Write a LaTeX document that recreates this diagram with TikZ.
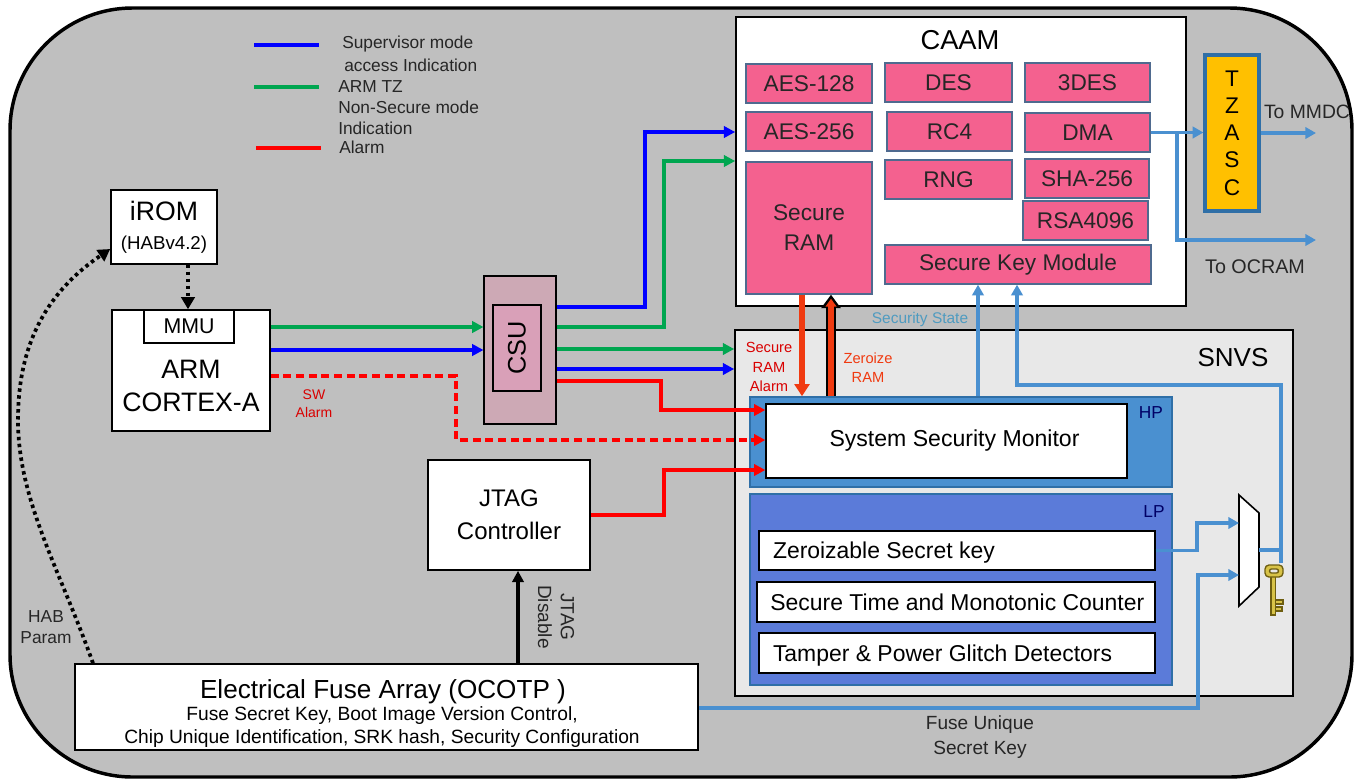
\documentclass[tikz,border=0pt]{standalone}
\usepackage{fontspec}
\setmainfont{Liberation Sans}
\usetikzlibrary{arrows.meta,positioning,calc}
\definecolor{shell}{HTML}{BFBFBF}
\definecolor{pinkbox}{HTML}{F4618F}
\definecolor{pinkedge}{HTML}{4F6A8F}
\definecolor{sigblue}{HTML}{4A90D0}
\definecolor{lpblue}{HTML}{5B7BD9}
\definecolor{snvsgrey}{HTML}{E8E8E8}
\definecolor{csupink}{HTML}{CDA9B5}
\definecolor{csuinner}{HTML}{D9A0B8}
\definecolor{tzorange}{HTML}{FFC000}
\definecolor{tzedge}{HTML}{2F6FA7}
\definecolor{stateblue}{HTML}{4F9BBF}
\definecolor{keygold}{HTML}{D8C348}
\definecolor{keyedge}{HTML}{6E5E10}
\definecolor{zerored}{HTML}{F03A10}
\definecolor{siggreen}{HTML}{00A650}
\newcommand{\fsz}[1]{\fontsize{#1}{1.2\dimexpr#1pt\relax}\selectfont}
\begin{document}
\begin{tikzpicture}[x=0.75pt, y=-0.75pt, >=Latex, font=\fsz{17},
  sz/.style 2 args={minimum width=#1*0.75pt, minimum height=#2*0.75pt, inner sep=0pt, align=center},
  wbox/.style={draw=black, line width=1.2pt, fill=white},
  pbox/.style={draw=pinkedge, line width=1pt, fill=pinkbox, text=black!85},
  inbox/.style={draw=black, line width=1pt, fill=white},
  lbl/.style={align=left, inner sep=0pt, anchor=west, font=\fsz{13}, text=black!85},
  redlbl/.style={align=center, inner sep=0pt, font=\fsz{11}, text=red!85!black},
  wire/.style={line width=2.8pt, -{Triangle[length=8.5pt,width=8.5pt]}},
  sblue/.style={wire, draw=blue},
  sgreen/.style={wire, draw=siggreen},
  sred/.style={wire, draw=red},
  sig/.style={line width=2.4pt, draw=sigblue, -{Triangle[length=8pt,width=8.5pt]}},
  dots/.style={line width=2.8pt, dash pattern=on 2.6pt off 2.6pt, -{Triangle[length=9pt,width=10pt]}}]
\useasboundingbox (0,0) rectangle (1361,779);
% ---------------- chip outline and big blocks
\path[fill=white] (0,0) rectangle (1361,779);
\draw[line width=2.6pt, fill=shell, rounded corners=92pt] (10,8) rectangle (1352,777);
\node[draw=black, line width=1.2pt, fill=white, sz={450}{289}] (caam) at (961,161.5) {};
\node[anchor=north, font=\fsz{20.5}] at (960,26) (caamt) {CAAM};
\node[draw=black, line width=1.2pt, fill=snvsgrey, sz={558}{366}] (snvs) at (1014,513) {};
\node[font=\fsz{19.5}] at (1233,358) (snvst) {SNVS};
% ---------------- CAAM contents
\node[pbox, sz={126}{39}] (aesa) at (809,83.5) {AES-128};
\node[pbox, sz={127}{39}] (des) at (948.5,82.5) {DES};
\node[pbox, sz={125}{39}] (tdes) at (1087.5,82.5) {3DES};
\node[pbox, sz={126}{39}] (aesb) at (809,131.5) {AES-256};
\node[pbox, sz={125}{39}] (rc) at (949.5,131.5) {RC4};
\node[pbox, sz={125}{39}] (dma) at (1087.5,132.5) {DMA};
\node[pbox, sz={126}{132}] (sram) at (809,228) {Secure\\[2pt]RAM};
\node[pbox, sz={127}{39}] (rng) at (948.5,179.5) {RNG};
\node[pbox, sz={124}{39}] (sha) at (1087,178.5) {SHA-256};
\node[pbox, sz={125}{39}] (rsa) at (1085.5,220.5) {RSA4096};
\node[pbox, sz={266}{39}] (skm) at (1018,264.5) {Secure Key Module};
\node[draw=tzedge, line width=2.4pt, fill=tzorange, sz={54}{156}] (tzasc) at (1232,133) {T\\Z\\A\\S\\C};
% ---------------- SNVS contents
\node[draw=tzedge, line width=1.2pt, fill=sigblue, sz={422}{90}] (hp) at (961,442) {};
\node[inbox, sz={361}{74}, font=\fsz{17.3}] (ssm) at (946.5,441) {\hspace*{12pt}System Security Monitor};
\node[font=\fsz{13}, text=blue!40!black] at (1151,413) (hpt) {HP};
\node[draw=tzedge, line width=1.2pt, fill=lpblue, sz={422}{191}] (lp) at (961,589.5) {};
\node[font=\fsz{13}, text=blue!40!black] at (1154,512) (lpt) {LP};
\node[inbox, sz={396}{39}, font=\fsz{17.2}, text depth=0pt] (zero) at (957,550.5) {\makebox[276pt][l]{Zeroizable Secret key}};
\node[inbox, sz={398}{40}, font=\fsz{17.2}] (stime) at (956,602) {\hspace*{2pt}Secure Time and Monotonic Counter};
\node[inbox, sz={396}{40}, font=\fsz{17.2}, text depth=0pt] (tamper) at (957,653) {\makebox[276pt][l]{Tamper \& Power Glitch Detectors}};
\coordinate (muxtl) at (1239,495);
\coordinate (muxtr) at (1259,513);
\coordinate (muxbr) at (1259,587);
\coordinate (muxbl) at (1239,606);
\draw[line width=1.2pt, fill=white] (muxtl) -- (muxtr) -- (muxbr) -- (muxbl) -- cycle;
% ---------------- left side blocks
\node[wbox, sz={106}{74}] (irom) at (164,227) {\fsz{20}iROM\\[1pt]\fsz{14}(HABv4.2)};
\node[wbox, sz={158}{121}, font=\fsz{20}] (arm) at (191,370.5) {\\[13pt]ARM\\[1pt]CORTEX-A};
\node[wbox, sz={90}{33}, font=\fsz{16}] (mmu) at (189,326.5) {MMU};
\node[draw=black, line width=0.8pt, fill=csupink, sz={72}{148}] (csu) at (520,350) {};
\node[draw=black, line width=1pt, fill=csuinner, sz={48}{86}] (csuin) at (517,348) {\rotatebox{90}{\fsz{19}CSU}};
\node[wbox, sz={162}{110}, font=\fsz{18}] (jtag) at (509,515) {JTAG\\[3pt]Controller};
\node[wbox, sz={623}{86}] (fuse) at (386.5,707) {};
\node[font=\fsz{19.6}, anchor=north] at (383,675) (fuset) {Electrical Fuse Array (OCOTP )};
\node[font=\fsz{14.4}, anchor=north, align=center] at (382,702) (fuses) {Fuse Secret Key, Boot Image Version Control,\\[0pt]Chip Unique Identification, SRK hash, Security Configuration};
% ---------------- legend
\coordinate (lgbl) at (254,45); \coordinate (lgbr) at (319,45);
\coordinate (lggl) at (254,87); \coordinate (lggr) at (319,87);
\coordinate (lgrl) at (256,148); \coordinate (lgrr) at (321,148);
\draw[line width=2.6pt, blue] (lgbl) -- (lgbr);
\draw[line width=2.6pt, siggreen] (lggl) -- (lggr);
\draw[line width=2.6pt, red] (lgrl) -- (lgrr);
\node[lbl] at (342,44) (lga) {Supervisor mode};
\node[lbl] at (344,65) (lgb) {access Indication};
\node[lbl] at (338,87) (lgc) {ARM TZ};
\node[lbl] at (338,107) (lgd) {Non-Secure mode};
\node[lbl] at (338,128) (lge) {Indication};
\node[lbl] at (339,147) (lgf) {Alarm};
% ---------------- signals from ARM and CSU
\draw[sgreen] (arm.east |- 0,327) -- (csu.west |- 0,327);
\draw[sblue] (arm.east |- 0,350) -- (csu.west |- 0,350);
\draw[sred, dash pattern=on 6pt off 3.5pt] (arm.east |- 0,376) -| (456,440) -- (ssm.west |- 0,440);
\draw[sblue] (csu.east |- 0,307) -| (645,132) -- (caam.west |- 0,132);
\draw[sgreen] (csu.east |- 0,327) -| (664,161) -- (caam.west |- 0,161);
\draw[sgreen] (csu.east |- 0,349) -- (snvs.west |- 0,349);
\draw[sblue] (csu.east |- 0,369) -- (snvs.west |- 0,369);
\draw[sred] (csu.east |- 0,381) -| (661,410) -- (ssm.west |- 0,410);
\draw[sred] (jtag.east |- 0,515) -| (664,470) -- (ssm.west |- 0,470);
\node[redlbl, font=\fsz{10.5}] at (314,404) (swl) {SW\\[1pt]Alarm};
% ---------------- black links
\draw[wire] (fuse.north -| 518,0) -- (jtag.south -| 518,0);
\node[rotate=-90, font=\fsz{14.3}, align=center, text=black!85] at (556,617) (jdl) {JTAG\\Disable};
\draw[dots] (irom.south -| 188,0) -- (mmu.north -| 188,0);
\draw[dots] (fuse.north -| 93,0) .. controls (60,570) and (18,500) .. (18,420) .. controls (18,340) and (50,290) .. (irom.west |- 0,249);
\node[font=\fsz{13}, align=center, text=black!85] at (46,627) (habl) {HAB\\Param};
% ---------------- RAM alarm and zeroize
\draw[line width=4pt, draw=zerored, -{Triangle[length=9pt,width=11pt]}] (sram.south -| 802,0) -- (hp.north -| 802,0);
\draw[line width=6.8pt, -{Triangle[length=10pt,width=14pt]}] (hp.north -| 831,0) -- (sram.south -| 831,0);
\draw[line width=4pt, draw=zerored, -{Triangle[length=6pt,width=8pt]}] (hp.north -| 831,0) -- ([yshift=-3pt]sram.south -| 831,0);
\node[redlbl] at (769,367) (ramal) {Secure\\[1.5pt]RAM\\[1.5pt]Alarm};
\node[redlbl, text=zerored] at (868,368) (zerol) {Zeroize\\[1pt]RAM};
% ---------------- light blue key and state paths
\draw[sig] (hp.north -| 978,0) -- (skm.south -| 978,0);
\draw[sig] (1281,563) |- (1017,385) -- (skm.south -| 1017,0);
\draw[sig, -] (muxtr |- 0,550) -- (1281,550);
\node[font=\fsz{11.6}, text=stateblue] at (920,319) (statel) {Security State};
\draw[sig] (zero.east) -| (1197,523) -- (muxtl |- 0,523);
\draw[sig] (fuse.east |- 0,708) -| (1198,575) -- (muxtl |- 0,575);
\node[font=\fsz{14.3}, align=center, text=black!85] at (980,737) (fusel) {Fuse Unique\\[1pt]Secret Key};
\draw[sig] (dma.east) -- (tzasc.west |- dma.east);
\draw[sig] (tzasc.east |- 0,133) -- (1316,133) coordinate (mmdcend);
\draw[sig] (1177,133) |- (1316,240) coordinate (ocramend);
\node[font=\fsz{14.5}, text=black!85] at (1307,112) (mmdcl) {To MMDC};
\node[font=\fsz{14.8}, text=black!85] at (1255,267) (ocraml) {To OCRAM};
% ---------------- key
\draw[line width=1pt, draw=keyedge, fill=keygold] (1271,576) rectangle (1275.5,615);
\draw[line width=1pt, draw=keyedge, fill=keygold] (1275.5,600) rectangle (1283,604);
\draw[line width=1pt, draw=keyedge, fill=keygold] (1275.5,607) rectangle (1282,611);
\draw[line width=1pt, draw=keyedge, fill=keygold, rounded corners=3pt] (1265,565) rectangle (1283,577);
\draw[line width=1pt, draw=keyedge, fill=snvsgrey, rounded corners=1.5pt] (1269.5,569) rectangle (1278.5,573);
\end{tikzpicture}
\end{document}
